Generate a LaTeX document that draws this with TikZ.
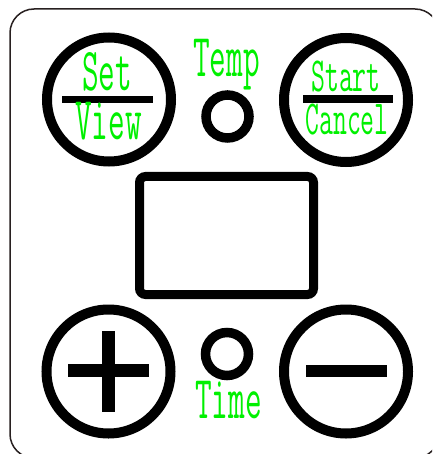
\documentclass[tikz,border=0pt]{standalone}
\usepackage{fontspec}
\usepackage{graphicx}
\definecolor{lbl}{RGB}{0,240,0}
\definecolor{frame}{RGB}{40,32,32}
\tikzset{
  bigbtn/.style={circle, draw=black, line width=10pt, minimum size=124pt, inner sep=0pt},
  led/.style={circle, draw=black, line width=9.5pt, minimum size=43pt, inner sep=0pt},
  lbltxt/.style={text=lbl, anchor=base, inner sep=0pt},
  bar/.style={fill=black, draw=none},
}
\newcommand{\bigtxt}[1]{{\ttfamily\fontsize{61}{61}\selectfont\raisebox{0pt}[26pt][0pt]{\scalebox{0.53}[1]{#1}}}}
\newcommand{\smtxt}[1]{{\ttfamily\fontsize{49}{49}\selectfont\raisebox{0pt}[22pt][0pt]{\scalebox{0.55}[1]{#1}}}}
\begin{document}
\begin{tikzpicture}[x=1pt,y=-1pt]
\useasboundingbox (0,0) rectangle (432,454);
\clip (0,0) rectangle (432,454);
% outer frame
\draw[frame, line width=1.5pt, rounded corners=24pt] (10,9) rectangle (439,458);
% buttons
\node[bigbtn] (setbtn) at (109,99.5) {};
\node[bigbtn] (startbtn) at (346,100) {};
\node[bigbtn] (plusbtn) at (108.5,371.5) {};
\node[bigbtn] (minusbtn) at (346,371.5) {};
% leds
\node[led] (templed) at (227.5,116.5) {};
\node[led] (timeled) at (227,354) {};
% display
\node[draw=black, line width=9pt, rounded corners=6pt, minimum width=174pt, minimum height=118pt, inner sep=0pt] (display) at (226.5,235.5) {};
% dividers
\fill[bar] (62,96) rectangle (153,103);
\fill[bar] (303,95) rectangle (393,103);
% plus and minus
\fill[bar] (68,364) rectangle (149,377);
\fill[bar] (102,331) rectangle (115,412);
\fill[bar] (306,365) rectangle (387,377);
% labels
\node[lbltxt] (settxt) at (107,91) {\bigtxt{Set}};
\node[lbltxt] (viewtxt) at (108.5,140) {\bigtxt{View}};
\node[lbltxt] (starttxt) at (346,92) {\smtxt{Start}};
\node[lbltxt] (canceltxt) at (347,135) {\smtxt{Cancel}};
\node[lbltxt] (temptxt) at (226.5,77) {\bigtxt{Temp}};
\node[lbltxt] (timetxt) at (228.5,418) {\bigtxt{Time}};
\end{tikzpicture}
\end{document}
